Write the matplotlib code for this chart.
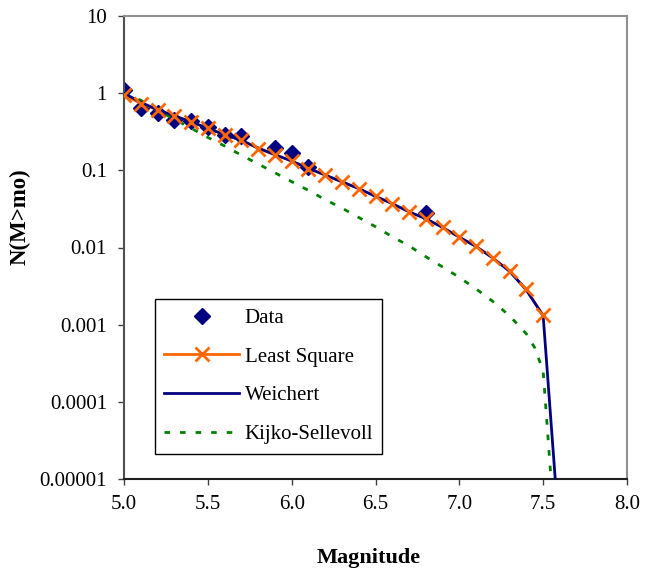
import matplotlib
matplotlib.use("Agg")
import matplotlib.pyplot as plt
from matplotlib.lines import Line2D
import numpy as np

plt.rcParams['font.family'] = ['Liberation Serif', 'DejaVu Serif']

# observed data
data_m = [5.0, 5.1, 5.2, 5.3, 5.4, 5.5, 5.6, 5.7, 5.9, 6.0, 6.1, 6.8]
data_n = [1.09, 0.65, 0.56, 0.455, 0.43, 0.36, 0.29, 0.28, 0.195, 0.167, 0.11, 0.028]

# least square fit
ls_m = [5.0, 5.1, 5.2, 5.3, 5.4, 5.5, 5.6, 5.7, 5.8, 5.9, 6.0, 6.1, 6.2,
        6.3, 6.4, 6.5, 6.6, 6.7, 6.8, 6.9, 7.0, 7.1, 7.2, 7.3, 7.4, 7.5]
ls_n = [0.94, 0.73, 0.60, 0.51, 0.425, 0.35, 0.285, 0.245, 0.19, 0.157, 0.132,
        0.105, 0.086, 0.0705, 0.058, 0.046, 0.037, 0.029, 0.0236, 0.0182,
        0.0136, 0.0104, 0.0073, 0.005, 0.0029, 0.00134]

# Weichert
w_m = [5.0, 5.1, 5.2, 5.3, 5.4, 5.5, 5.6, 5.7, 5.8, 5.9, 6.0, 6.1, 6.2,
       6.3, 6.4, 6.5, 6.6, 6.7, 6.8, 6.9, 7.0, 7.1, 7.2, 7.3, 7.4, 7.5, 7.6]
w_n = [1.0, 0.76, 0.61, 0.51, 0.425, 0.35, 0.29, 0.245, 0.195, 0.16, 0.132,
       0.106, 0.087, 0.071, 0.058, 0.046, 0.037, 0.029, 0.0236, 0.0182,
       0.0136, 0.0103, 0.0073, 0.0049, 0.0028, 0.0013, 0.0000015]

# Kijko-Sellevoll
ks_m = [5.0, 5.1, 5.2, 5.3, 5.4, 5.5, 5.6, 5.7, 5.8, 5.9, 6.0, 6.1, 6.2,
        6.3, 6.4, 6.5, 6.6, 6.7, 6.8, 6.9, 7.0, 7.1, 7.2, 7.3, 7.4, 7.45,
        7.5, 7.55]
ks_n = [1.0, 0.81, 0.60, 0.46, 0.352, 0.267, 0.207, 0.157, 0.121, 0.093,
        0.0714, 0.055, 0.0417, 0.0324, 0.0245, 0.0186, 0.0138, 0.0105,
        0.0076, 0.0056, 0.0041, 0.0029, 0.0020, 0.0013, 0.00076, 0.0005,
        0.00025, 0.000008]

navy = '#000080'
orange = '#FF6600'
green = '#008000'
dots = (0, (2.0, 3.6))

fig = plt.figure(figsize=(6.53, 5.72), dpi=100)
ax = fig.add_axes([124/653, 1-479/572, 503/653, 463/572])

ax.plot(data_m, data_n, linestyle='none', marker='D', markersize=8,
        color=navy, zorder=2)
ax.plot(ks_m, ks_n, color=green, linewidth=2, linestyle=dots, zorder=2)
ax.plot(ls_m, ls_n, color=orange, linewidth=1.5, zorder=3)
ax.plot(w_m, w_n, color=navy, linewidth=2, zorder=4)
ax.plot(ls_m, ls_n, linestyle='none', marker='x', markersize=10,
        markeredgewidth=2, color=orange, zorder=5)

ax.set_yscale('log')
ax.set_ylim(1e-5, 10)
ax.set_xlim(5.0, 8.0)
ax.set_xticks(np.arange(5.0, 8.01, 0.5))
ax.set_xticklabels(['%.1f' % v for v in np.arange(5.0, 8.01, 0.5)])
yt = [1e-5, 1e-4, 1e-3, 1e-2, 1e-1, 1, 10]
ax.set_yticks(yt)
ax.set_yticklabels(['0.00001', '0.0001', '0.001', '0.01', '0.1', '1', '10'])
ax.yaxis.set_minor_locator(matplotlib.ticker.NullLocator())
ax.tick_params(axis='both', direction='out', length=4.3, width=1,
               labelsize=15, colors='#404040', labelcolor='black')
ax.tick_params(axis='x', pad=7)
ax.tick_params(axis='y', pad=8)

ax.spines['left'].set_color('#505050')
ax.spines['bottom'].set_color('#202020')
ax.spines['top'].set_color('#909090')
ax.spines['right'].set_color('#909090')
for s in ax.spines.values():
    s.set_linewidth(1.5)

handles = [
    Line2D([], [], linestyle='none', marker='D', markersize=8, color=navy),
    Line2D([], [], color=orange, linewidth=2, marker='x', markersize=10,
           markeredgewidth=2),
    Line2D([], [], color=navy, linewidth=2),
    Line2D([], [], color=green, linewidth=2, linestyle=dots),
]
labels = ['Data', 'Least Square', 'Weichert', 'Kijko-Sellevoll']
leg = ax.legend(handles, labels, loc='upper left',
                bbox_to_anchor=(31/503, 180/463), borderaxespad=0,
                fontsize=15, handlelength=3.6, handletextpad=0.25,
                labelspacing=0.92, borderpad=0.45, fancybox=False,
                framealpha=1, edgecolor='black')
leg.get_frame().set_linewidth(1)

fig.text(369/653, 1-558/572, 'Magnitude', ha='center', va='center',
         fontsize=16, fontweight='bold')
fig.text(20/653, 1-217/572, 'N(M>mo)', ha='center', va='center',
         rotation=90, fontsize=16.5, fontweight='bold')

plt.savefig('out.png', dpi=100)
